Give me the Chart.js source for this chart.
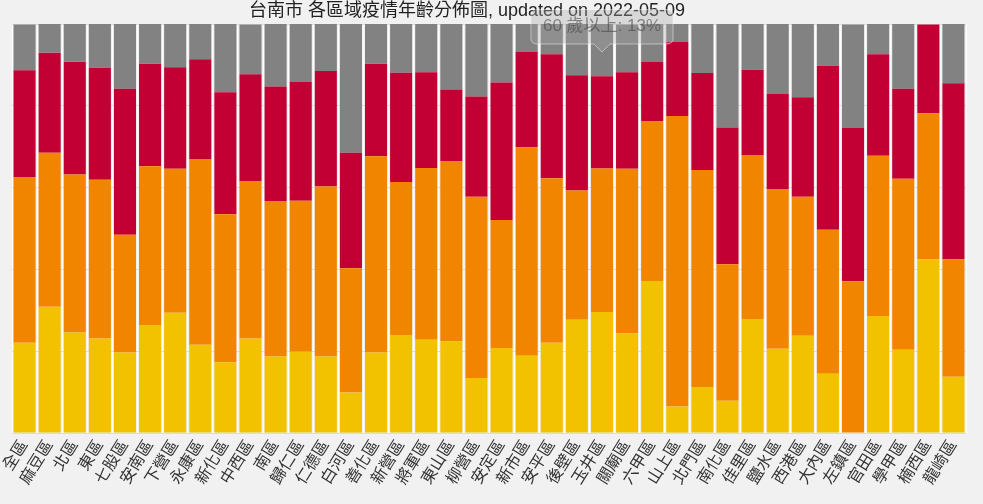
<!DOCTYPE html>
<html>
<head>
<meta charset="utf-8">
<script src="https://cdn.jsdelivr.net/npm/chart.js@4"></script>
<style>
  html, body { margin: 0; padding: 0; background: #f1f1f1; }
  #wrap { width: 983px; height: 504px; }
</style>
</head>
<body>
<div id="wrap"><canvas id="grafico"></canvas></div>
<script>
const areas = ['全區', '麻豆區', '北區', '東區', '七股區', '安南區', '下營區', '永康區', '新化區', '中西區',
  '南區', '歸仁區', '仁德區', '白河區', '善化區', '新營區', '將軍區', '東山區', '柳營區', '安定區',
  '新市區', '安平區', '後壁區', '玉井區', '關廟區', '六甲區', '山上區', '北門區', '南化區', '佳里區',
  '鹽水區', '西港區', '大內區', '左鎮區', '官田區', '學甲區', '楠西區', '龍崎區'];

// 各年齡層比例 (%)
const age0to19 = [22.1, 30.9, 24.6, 23.1, 19.7, 26.4, 29.4, 21.6, 17.3, 23.1,
  18.7, 19.9, 18.7, 9.9, 19.7, 24.0, 22.8, 22.4, 13.5, 20.8,
  18.9, 22.1, 27.7, 29.6, 24.4, 37.2, 6.5, 11.3, 7.9, 27.9,
  20.6, 23.8, 14.5, 0, 28.6, 20.4, 42.5, 13.8];
const age20to39 = [40.4, 37.6, 38.6, 38.8, 28.8, 38.8, 35.2, 45.4, 36.2, 38.4,
  37.9, 36.9, 41.6, 30.4, 48.0, 37.4, 42.0, 44.0, 44.3, 31.3,
  51.0, 40.2, 31.6, 35.1, 40.2, 39.1, 71.0, 53.0, 33.4, 40.1,
  39.1, 34.0, 35.2, 37.1, 39.2, 41.8, 35.7, 28.7];
const age40to59 = [26.2, 24.5, 27.6, 27.4, 35.7, 25.1, 24.8, 24.4, 29.8, 26.2,
  28.1, 29.0, 28.2, 28.2, 22.6, 26.7, 23.4, 17.6, 24.5, 33.6,
  23.3, 30.3, 28.2, 22.5, 23.6, 14.4, 18.1, 23.7, 33.4, 20.8,
  23.2, 24.3, 40.1, 37.5, 24.8, 22.0, 21.7, 43.0];
const age60up = [11.2, 7.0, 9.2, 10.7, 15.8, 9.8, 10.7, 8.6, 16.7, 12.2,
  15.3, 14.3, 11.5, 31.5, 9.7, 11.9, 11.8, 16.0, 17.7, 14.3,
  6.8, 7.4, 12.5, 12.8, 11.7, 9.3, 4.4, 12.0, 25.3, 11.2,
  17.1, 18.0, 10.3, 25.3, 7.4, 15.9, 0, 14.5];

const titulo = '台南市 各區域疫情年齡分佈圖, updated on 2022-05-09';
const fonte = '"Liberation Sans", "Noto Sans CJK TC", sans-serif';

// tooltip fixo sobre 玉井區 (60 歲以上)
Chart.Tooltip.positioners.fixo = function (items) {
    if (!items.length) return false;
    return { x: items[0].element.x, y: this.chart.chartArea.top + 30 };
};

// título um pouco à esquerda do centro, como no original
const tituloPlugin = {
    id: 'tituloPlugin',
    beforeDraw(chart) {
        const ctx = chart.ctx;
        const area = chart.chartArea;
        ctx.save();
        ctx.font = '18px ' + fonte;
        ctx.fillStyle = '#222';
        ctx.textAlign = 'center';
        ctx.textBaseline = 'middle';
        ctx.fillText(titulo, (area.left + area.right) / 2 - 22, area.top - 13);
        ctx.restore();
    }
};

const grafico = document.getElementById('grafico');

const graficoIdade = new Chart(grafico, {
    type: 'bar',
    data: {
        labels: areas,
        datasets: [
            { label: '0-19 歲', data: age0to19, backgroundColor: '#f2c200' },
            { label: '20-39 歲', data: age20to39, backgroundColor: '#f28500' },
            { label: '40-59 歲', data: age40to59, backgroundColor: '#c20033' },
            { label: '60 歲以上', data: age60up, backgroundColor: '#828282' }
        ]
    },
    plugins: [tituloPlugin],
    options: {
        responsive: true,
        maintainAspectRatio: false,
        animation: false,
        events: [],
        layout: { padding: { left: 12, right: 17, top: 24, bottom: 12 } },
        datasets: { bar: { categoryPercentage: 1, barPercentage: 0.88, borderWidth: 0 } },
        scales: {
            x: {
                stacked: true,
                grid: { color: '#ffffff', lineWidth: 1, drawTicks: false },
                border: { display: false },
                ticks: {
                    autoSkip: false,
                    minRotation: 58,
                    maxRotation: 58,
                    padding: 4,
                    color: '#333',
                    font: { family: fonte, size: 16 }
                }
            },
            y: {
                stacked: true,
                min: 0,
                max: 100,
                grid: { color: '#dcdcdc', drawTicks: false },
                border: { display: false },
                ticks: { display: false, stepSize: 20 }
            }
        },
        plugins: {
            legend: { display: false },
            title: { display: false },
            tooltip: {
                position: 'fixo',
                yAlign: 'bottom',
                backgroundColor: 'rgba(170,170,170,0.35)',
                borderColor: 'rgba(255,255,255,0.45)',
                borderWidth: 1,
                bodyColor: 'rgba(70,70,70,0.6)',
                bodyFont: { family: fonte, size: 17 },
                padding: { x: 12, y: 7 },
                cornerRadius: 6,
                caretSize: 8,
                displayColors: false,
                callbacks: {
                    title: () => '',
                    label: ctx => ctx.dataset.label + ': ' + Math.round(ctx.raw) + '%'
                }
            }
        }
    }
});

graficoIdade.tooltip.setActiveElements([{ datasetIndex: 3, index: 23 }], { x: 0, y: 0 });
graficoIdade.update();
</script>
</body>
</html>
